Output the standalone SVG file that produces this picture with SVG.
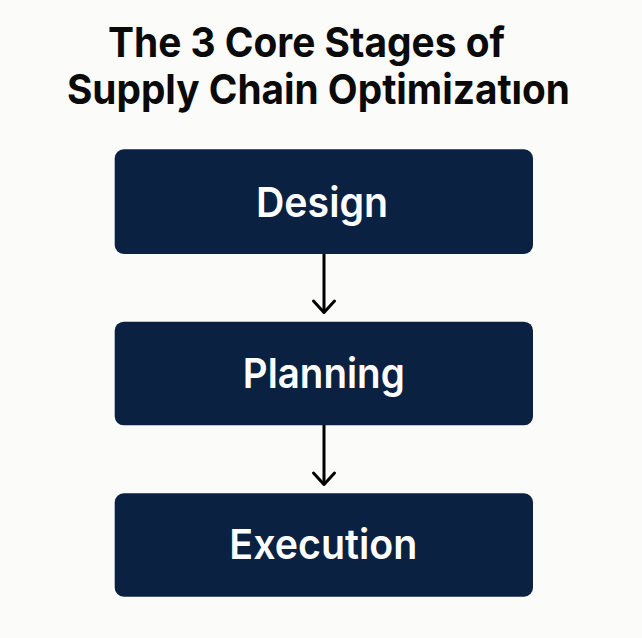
<svg xmlns="http://www.w3.org/2000/svg" width="642" height="638" viewBox="0 0 642 638">
<style>
.title{font-family:Inter,"Liberation Sans",Arial,sans-serif;font-weight:700;font-size:41px;fill:#0a0a0a}
.box{fill:#0b2142}
.lbl{font-family:Inter,"Liberation Sans",Arial,sans-serif;font-weight:600;font-size:41px;fill:#ffffff;text-anchor:middle}
.conn{stroke:#000;stroke-width:3;fill:none;stroke-linecap:round;stroke-linejoin:round}
</style>
<rect width="642" height="638" fill="#fbfbf9"/>
<g id="title">
<text class="title" x="108" y="56.5" textLength="397" lengthAdjust="spacingAndGlyphs">The 3 Core Stages of</text>
<text class="title" x="67" y="104.3" textLength="503" lengthAdjust="spacingAndGlyphs">Supply Chain Optimizatıon</text>
</g>
<g id="connectors">
<path class="conn" d="M324,254 V312"/>
<path class="conn" d="M313.5,301 L324,312.5 L334.5,301"/>
<path class="conn" d="M324,425 V484"/>
<path class="conn" d="M313.5,473 L324,484.5 L334.5,473"/>
</g>
<g id="design">
<rect class="box" x="114.7" y="149.3" width="418.3" height="104.7" rx="9"/>
<text class="lbl" x="322" y="217.3" textLength="132" lengthAdjust="spacingAndGlyphs">Design</text>
</g>
<g id="planning">
<rect class="box" x="114.7" y="321.7" width="418.3" height="103.6" rx="9"/>
<text class="lbl" x="323.8" y="387.7" textLength="162" lengthAdjust="spacingAndGlyphs">Planning</text>
</g>
<g id="execution">
<rect class="box" x="114.7" y="493.3" width="418.3" height="103.4" rx="9"/>
<text class="lbl" x="323.3" y="559.3" textLength="188" lengthAdjust="spacingAndGlyphs">Execution</text>
</g>
</svg>
